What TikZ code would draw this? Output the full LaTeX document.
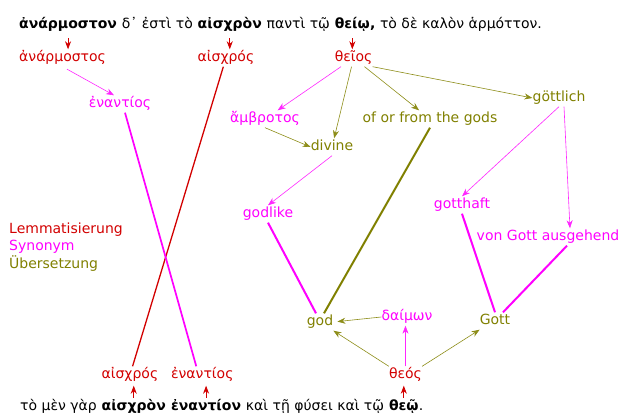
\documentclass[tikz,border=0pt]{standalone}
\usepackage{fontspec}
\setmainfont{DejaVu Sans}
\usepackage{xcolor}
\usepackage{tikz}
\usetikzlibrary{positioning,arrows.meta,calc}

\definecolor{lemred}{RGB}{210,0,0}
\definecolor{synmag}{RGB}{255,0,255}
\definecolor{transol}{RGB}{128,128,0}
\newcommand{\diafont}{\fontsize{14}{17.5}\selectfont}

\begin{document}
\begin{tikzpicture}[
  x=1pt, y=-1pt,
  font=\diafont,
  >={Stealth[length=8pt,width=6pt,inset=2.5pt]},
  word/.style     ={inner xsep=0pt, inner ysep=2pt, text height=10pt, text depth=3pt},
  txt/.style      ={word, inner ysep=0pt, anchor=base west},
  bold/.style     ={txt, font=\diafont\bfseries},
  lem/.style      ={word, text=lemred},
  syn/.style      ={word, text=synmag},
  trans/.style    ={word, text=transol},
  lemarr/.style   ={->, draw=lemred, line width=0.8pt},
  synarr/.style   ={->, draw=synmag!85, line width=0.6pt},
  transarr/.style ={->, draw=transol!90, line width=0.6pt},
  lemlink/.style  ={draw=lemred, line width=1.3pt},
  synlink/.style  ={draw=synmag, line width=2pt},
  translink/.style={draw=transol, line width=2pt},
]
\useasboundingbox (0,0) rectangle (622,414);

\def\rT{29}
\def\rL{58}
\def\rB{375}
\def\rS{410}

% ---------- SENTENCE (top) ----------
\node[bold] (s1) at (19,\rT)         {ἀνάρμοστον};
\node[txt]  (s2) at (s1.base east)   {\ δ᾽ ἐστὶ τὸ\ \null};
\node[bold] (s3) at (s2.base east)   {αἰσχρὸν};
\node[txt]  (s4) at (s3.base east)   {\ παντὶ τῷ\ \null};
\node[bold] (s5) at (s4.base east)   {θείῳ};
\node[txt]  (s6) at (s5.base east)   {{\bfseries,}\ τὸ δὲ καλὸν ἁρμόττον.};

% ---------- LEMMAS (top) ----------
\node[lem, anchor=west] (anar)   at (s1.west |- 0,\rL) {ἀνάρμοστος};
\node[lem, anchor=west] (aisch1) at (s3.west |- 0,\rL) {αἰσχρός};
\node[lem, anchor=west] (theios) at (s5.west |- 0,\rL) {θεῖος};

% ---------- SENTENCE (bottom) ----------
\node[txt]  (b1) at (20,\rS)         {τὸ μὲν γὰρ\ \null};
\node[bold] (b2) at (b1.base east)   {αἰσχρὸν};
\node[txt]  (b3) at (b2.base east)   {\ \null};
\node[bold] (b4) at (b3.base east)   {ἐναντίον};
\node[txt]  (b5) at (b4.base east)   {\ καὶ τῇ φύσει καὶ τῷ\ \null};
\node[bold] (b6) at (b5.base east)   {θεῷ};
\node[txt]  (b7) at (b6.base east)   {.};

% ---------- LEMMAS (bottom) ----------
\node[lem, anchor=west] (aisch2) at (b2.west |- 0,\rB) {αἰσχρός};
\node[lem, anchor=west] (enant2) at (b4.west |- 0,\rB) {ἐναντίος};
\node[lem, anchor=west] (theos)  at (b6.west |- 0,\rB) {θεός};

% ---------- SYNONYMS / TRANSLATIONS ----------
\node[syn]   (enant1)   at (120,104) {ἐναντίος};
\node[syn]   (ambr)     at (265,119) {ἄμβροτος};
\node[trans] (divine)   at (332,147) {divine};
\node[trans] (ofgods)   at (430,119) {of or from the gods};
\node[trans] (goettl)   at (559,98)  {göttlich};
\node[syn]   (godlike)  at (268,214) {godlike};
\node[syn]   (gotthaft) at (462,205) {gotthaft};
\node[syn]   (vongott)  at (548,237) {von Gott ausgehend};
\node[trans] (god)      at (320,322) {god};
\node[syn]   (daimon)   at (407,317) {δαίμων};
\node[trans] (gott)     at (495,321) {Gott};

% ---------- legend ----------
\node[inner sep=0pt, align=left, anchor=west] (legend) at (9,247)
  {\textcolor{lemred}{Lemmatisierung}\\ \textcolor{synmag}{Synonym}\\ \textcolor{transol}{Übersetzung}};

% ---------- ARROWS ----------
\draw[lemarr, shorten <=6pt] (s1) -- (s1 |- anar.north);
\draw[lemarr, shorten <=6pt] (s3) -- (s3 |- aisch1.north);
\draw[lemarr, shorten <=6pt] (s5) -- (s5 |- theios.north);
\draw[lemarr, shorten <=2pt, shorten >=2pt] (b2) -- (b2 |- aisch2.south);
\draw[lemarr, shorten <=2pt, shorten >=2pt] (b4) -- (b4 |- enant2.south);
\draw[lemarr, shorten <=2pt, shorten >=2pt] (b6) -- (b6 |- theos.south);

\draw[lemlink] (aisch1) -- (aisch2);
\draw[synlink, line width=1.7pt] ([xshift=5pt]enant1.south) -- ([xshift=-6pt]enant2.north);

\draw[synarr, shorten <=5pt] (anar.south) -- ([xshift=-6pt]enant1.north);
\draw[synarr]   (theios) -- (ambr);
\draw[transarr] (theios) -- (divine);
\draw[transarr] (theios) -- (ofgods);
\draw[transarr] (theios.south east) -- (goettl.west);
\draw[transarr] (ambr.south) -- (divine.west);
\draw[synarr]   (divine.south) -- (godlike.north);
\draw[synarr]   (goettl.south) -- (gotthaft.north);
\draw[synarr]   ([xshift=5pt]goettl.south) -- ([xshift=22pt]vongott.north);

\draw[synlink]   (godlike.south) -- ([xshift=-4pt]god.north);
\draw[translink] (ofgods.south) -- ([xshift=4pt]god.north);
\draw[synlink]   (gotthaft.south) -- (gott.north);
\draw[synlink]   ([xshift=19pt]vongott.south) -- ([xshift=8pt]gott.north);

\draw[transarr, shorten >=4pt] (daimon.west) -- (god.east);
\draw[transarr] (theos.north west) -- (god.south east);
\draw[synarr]   (theos.north) -- (theos.north |- daimon.south);
\draw[transarr] (theos.north east) -- (gott.south west);

\end{tikzpicture}
\end{document}
